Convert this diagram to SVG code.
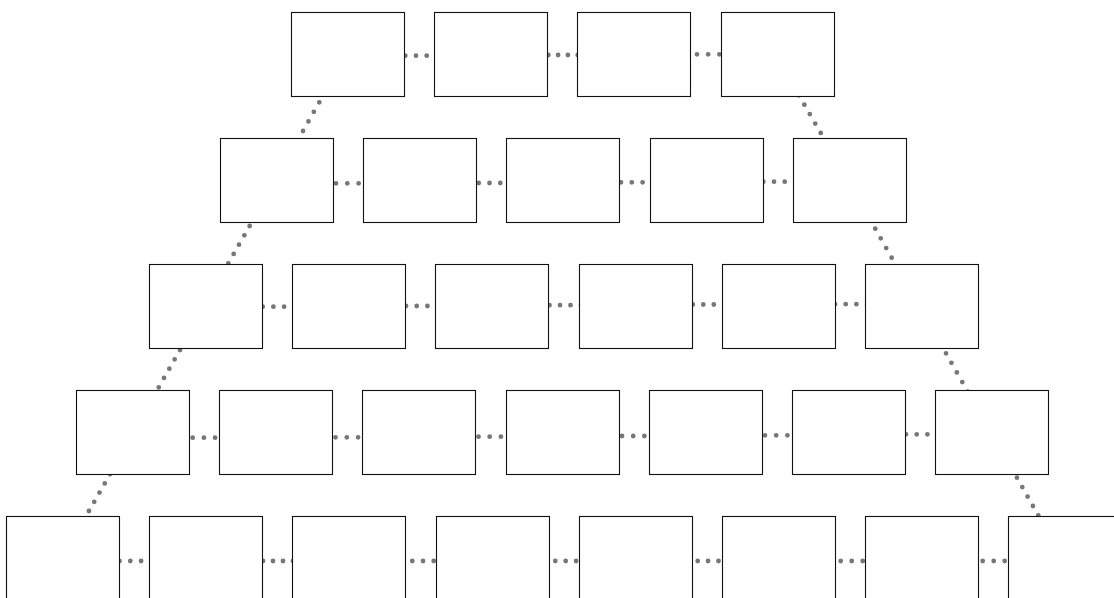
<svg xmlns="http://www.w3.org/2000/svg" width="1114" height="598" viewBox="0 0 1114 598">
<style>
.node rect{fill:#fff;stroke:#111;stroke-width:1.1}
.edge{fill:none;stroke:#777;stroke-width:4.8;stroke-linecap:round;stroke-dasharray:0 1}
</style>
<rect width="1114" height="598" fill="#fff"/>
<g id="connectors">
<path class="edge" pathLength="5" d="M394.6 55.7H448.1"/>
<path class="edge" pathLength="5" d="M538.5 55H587.5"/>
<path class="edge" pathLength="5" d="M685.8 54.3H741.8"/>
<path class="edge" pathLength="5" d="M324.7 183.3H381.2"/>
<path class="edge" pathLength="5" d="M467.9 183H521.9"/>
<path class="edge" pathLength="5" d="M610.2 182.3H664.2"/>
<path class="edge" pathLength="5" d="M752.6 181.7H806.1"/>
<path class="edge" pathLength="5" d="M252 306.7H305.5"/>
<path class="edge" pathLength="5" d="M395.3 306H448.8"/>
<path class="edge" pathLength="5" d="M539 305.2H591.5"/>
<path class="edge" pathLength="5" d="M682.3 304.5H734.8"/>
<path class="edge" pathLength="5" d="M824.3 304.2H877.8"/>
<path class="edge" pathLength="5" d="M181.5 437.7H237.5"/>
<path class="edge" pathLength="5" d="M324.2 437.3H380.7"/>
<path class="edge" pathLength="5" d="M467.3 436.7H523.3"/>
<path class="edge" pathLength="5" d="M610.8 436H666.8"/>
<path class="edge" pathLength="5" d="M753.8 435.3H809.8"/>
<path class="edge" pathLength="5" d="M895.3 434.3H948.8"/>
<path class="edge" pathLength="5" d="M108.7 561H162.7"/>
<path class="edge" pathLength="5" d="M253 561H303"/>
<path class="edge" pathLength="5" d="M401.6 561H455.1"/>
<path class="edge" pathLength="5" d="M544.9 561H596.9"/>
<path class="edge" pathLength="5" d="M687.3 561H739.3"/>
<path class="edge" pathLength="5" d="M829.7 561H884.7"/>
<path class="edge" pathLength="5" d="M971.7 561H1026.7"/>
<path class="edge" pathLength="5" d="M324.7 92.7L297.6 140.6"/>
<path class="edge" pathLength="6" d="M255 216.7L223 272.6"/>
<path class="edge" pathLength="6" d="M185.3 340.7L153.4 396.6"/>
<path class="edge" pathLength="6" d="M115.3 465L83.7 520.2"/>
<path class="edge" pathLength="6" d="M793.4 85.8L826.2 142.4"/>
<path class="edge" pathLength="5" d="M869.8 219L897.1 267.4"/>
<path class="edge" pathLength="6" d="M940.6 343.7L973.1 401.2"/>
<path class="edge" pathLength="6" d="M1011.6 468.2L1043.6 524.9"/>
</g>
<g id="n1-1" class="node"><rect x="291.5" y="12.5" width="113" height="84"/></g>
<g id="n1-2" class="node"><rect x="434.5" y="12.5" width="113" height="84"/></g>
<g id="n1-3" class="node"><rect x="577.5" y="12.5" width="113" height="84"/></g>
<g id="n1-4" class="node"><rect x="721.5" y="12.5" width="113" height="84"/></g>
<g id="n2-1" class="node"><rect x="220.5" y="138.5" width="113" height="84"/></g>
<g id="n2-2" class="node"><rect x="363.5" y="138.5" width="113" height="84"/></g>
<g id="n2-3" class="node"><rect x="506.5" y="138.5" width="113" height="84"/></g>
<g id="n2-4" class="node"><rect x="650.5" y="138.5" width="113" height="84"/></g>
<g id="n2-5" class="node"><rect x="793.5" y="138.5" width="113" height="84"/></g>
<g id="n3-1" class="node"><rect x="149.5" y="264.5" width="113" height="84"/></g>
<g id="n3-2" class="node"><rect x="292.5" y="264.5" width="113" height="84"/></g>
<g id="n3-3" class="node"><rect x="435.5" y="264.5" width="113" height="84"/></g>
<g id="n3-4" class="node"><rect x="579.5" y="264.5" width="113" height="84"/></g>
<g id="n3-5" class="node"><rect x="722.5" y="264.5" width="113" height="84"/></g>
<g id="n3-6" class="node"><rect x="865.5" y="264.5" width="113" height="84"/></g>
<g id="n4-1" class="node"><rect x="76.5" y="390.5" width="113" height="84"/></g>
<g id="n4-2" class="node"><rect x="219.5" y="390.5" width="113" height="84"/></g>
<g id="n4-3" class="node"><rect x="362.5" y="390.5" width="113" height="84"/></g>
<g id="n4-4" class="node"><rect x="506.5" y="390.5" width="113" height="84"/></g>
<g id="n4-5" class="node"><rect x="649.5" y="390.5" width="113" height="84"/></g>
<g id="n4-6" class="node"><rect x="792.5" y="390.5" width="113" height="84"/></g>
<g id="n4-7" class="node"><rect x="935.5" y="390.5" width="113" height="84"/></g>
<g id="n5-1" class="node"><rect x="6.5" y="516.5" width="113" height="84"/></g>
<g id="n5-2" class="node"><rect x="149.5" y="516.5" width="113" height="84"/></g>
<g id="n5-3" class="node"><rect x="292.5" y="516.5" width="113" height="84"/></g>
<g id="n5-4" class="node"><rect x="436.5" y="516.5" width="113" height="84"/></g>
<g id="n5-5" class="node"><rect x="579.5" y="516.5" width="113" height="84"/></g>
<g id="n5-6" class="node"><rect x="722.5" y="516.5" width="113" height="84"/></g>
<g id="n5-7" class="node"><rect x="865.5" y="516.5" width="113" height="84"/></g>
<g id="n5-8" class="node"><rect x="1008.5" y="516.5" width="113" height="84"/></g>
</svg>
